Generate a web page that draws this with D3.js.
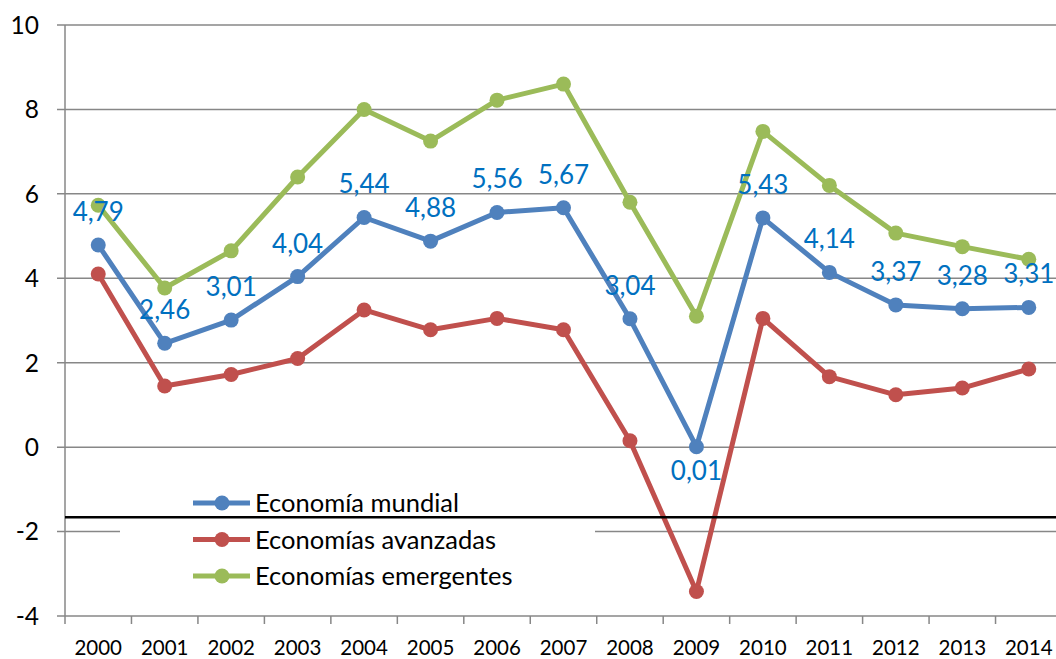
<!DOCTYPE html>
<html>
<head>
<meta charset="utf-8">
<script src="https://cdn.jsdelivr.net/npm/d3@7"></script>
<style>
  body { margin: 0; background: #fff; }
  svg { display: block; font-family: Lato, "Open Sans", sans-serif; }
</style>
</head>
<body>
<div id="chart"></div>
<script>
// Crecimiento del PIB (%), 2000-2014
const YEARS = ["2000", "2001", "2002", "2003", "2004", "2005", "2006", "2007",
  "2008", "2009", "2010", "2011", "2012", "2013", "2014"];
const MUNDIAL = [4.79, 2.46, 3.01, 4.04, 5.44, 4.88, 5.56, 5.67, 3.04, 0.01, 5.43, 4.14, 3.37, 3.28, 3.31];
const AVANZADAS = [4.1, 1.45, 1.72, 2.1, 3.25, 2.78, 3.05, 2.78, 0.15, -3.42, 3.05, 1.67, 1.24, 1.4, 1.85];
const EMERGENTES = [5.73, 3.77, 4.65, 6.4, 8.0, 7.25, 8.22, 8.6, 5.8, 3.1, 7.48, 6.2, 5.07, 4.75, 4.45];
const Y_TICKS = [-4, -2, 0, 2, 4, 6, 8, 10];
const REF_LINE = -1.66; // black horizontal line across the plot

const SERIES = [
  { name: "Economía mundial", values: MUNDIAL, color: "#4f81bd" },
  { name: "Economías avanzadas", values: AVANZADAS, color: "#c0504d" },
  { name: "Economías emergentes", values: EMERGENTES, color: "#9bbb59" },
];

const width = 1056;
const height = 659;
const plotLeft = 65, plotRight = 1062, plotTop = 25, plotBottom = 616;

const x = d3.scaleBand().domain(YEARS).range([plotLeft, plotRight]);
const y = d3.scaleLinear().domain([-4, 10]).range([plotBottom, plotTop]);
const cx = (year) => x(year) + x.bandwidth() / 2;

const svg = d3.select("#chart").append("svg")
  .attr("width", width)
  .attr("height", height);

// ---- gridlines + axes ----
svg.append("g")
  .selectAll("line")
  .data(Y_TICKS)
  .join("line")
  .attr("x1", plotLeft - 8)
  .attr("x2", plotRight)
  .attr("y1", (d) => y(d))
  .attr("y2", (d) => y(d))
  .attr("stroke", "#878787")
  .attr("stroke-width", 1.5);

svg.append("line")
  .attr("x1", plotLeft).attr("x2", plotLeft)
  .attr("y1", plotTop).attr("y2", plotBottom)
  .attr("stroke", "#878787")
  .attr("stroke-width", 1.5);

svg.append("g")
  .selectAll("line")
  .data(YEARS.concat([null]))
  .join("line")
  .attr("x1", (d) => (d === null ? plotRight : x(d)))
  .attr("x2", (d) => (d === null ? plotRight : x(d)))
  .attr("y1", plotBottom)
  .attr("y2", plotBottom + 8)
  .attr("stroke", "#878787")
  .attr("stroke-width", 1.5);

svg.append("g")
  .selectAll("text")
  .data(Y_TICKS)
  .join("text")
  .attr("x", 39)
  .attr("y", (d) => y(d))
  .attr("dy", "0.36em")
  .attr("text-anchor", "end")
  .attr("font-size", 24.5)
  .attr("fill", "#000")
  .text((d) => d);

svg.append("g")
  .selectAll("text")
  .data(YEARS)
  .join("text")
  .attr("x", (d) => cx(d))
  .attr("y", 655)
  .attr("text-anchor", "middle")
  .attr("font-size", 20.5)
  .attr("fill", "#000")
  .text((d) => d);

// ---- legend background (hides part of the -2 gridline) ----
svg.append("rect")
  .attr("x", 120).attr("y", 485)
  .attr("width", 475).attr("height", 115)
  .attr("fill", "#fff");

// ---- series ----
const line = d3.line()
  .x((d, i) => cx(YEARS[i]))
  .y((d) => y(d));

for (const s of SERIES) {
  svg.append("path")
    .attr("d", line(s.values))
    .attr("fill", "none")
    .attr("stroke", s.color)
    .attr("stroke-width", 5)
    .attr("stroke-linejoin", "round");

  svg.append("g")
    .selectAll("circle")
    .data(s.values)
    .join("circle")
    .attr("cx", (d, i) => cx(YEARS[i]))
    .attr("cy", (d) => y(d))
    .attr("r", 7.5)
    .attr("fill", s.color);
}

// data labels for the world series (above, except the 2009 dip)
svg.append("g")
  .selectAll("text")
  .data(MUNDIAL)
  .join("text")
  .attr("x", (d, i) => cx(YEARS[i]))
  .attr("y", (d) => (d < 1 ? y(d) + 33 : y(d) - 24))
  .attr("text-anchor", "middle")
  .attr("font-size", 26)
  .attr("fill", "#0070c0")
  .text((d) => d.toFixed(2).replace(".", ","));

// ---- reference line ----
svg.append("line")
  .attr("x1", plotLeft).attr("x2", width)
  .attr("y1", y(REF_LINE)).attr("y2", y(REF_LINE))
  .attr("stroke", "#000")
  .attr("stroke-width", 2.5);

// ---- legend ----
const legend = svg.append("g");
SERIES.forEach((s, i) => {
  const ly = 503 + i * 36.5;
  legend.append("line")
    .attr("x1", 193).attr("x2", 250)
    .attr("y1", ly).attr("y2", ly)
    .attr("stroke", s.color)
    .attr("stroke-width", 5);
  legend.append("circle")
    .attr("cx", 222).attr("cy", ly)
    .attr("r", 7.5)
    .attr("fill", s.color);
  legend.append("text")
    .attr("x", 255).attr("y", ly)
    .attr("dy", "0.36em")
    .attr("font-size", 25.5)
    .attr("fill", "#000")
    .text(s.name);
});
</script>
</body>
</html>
